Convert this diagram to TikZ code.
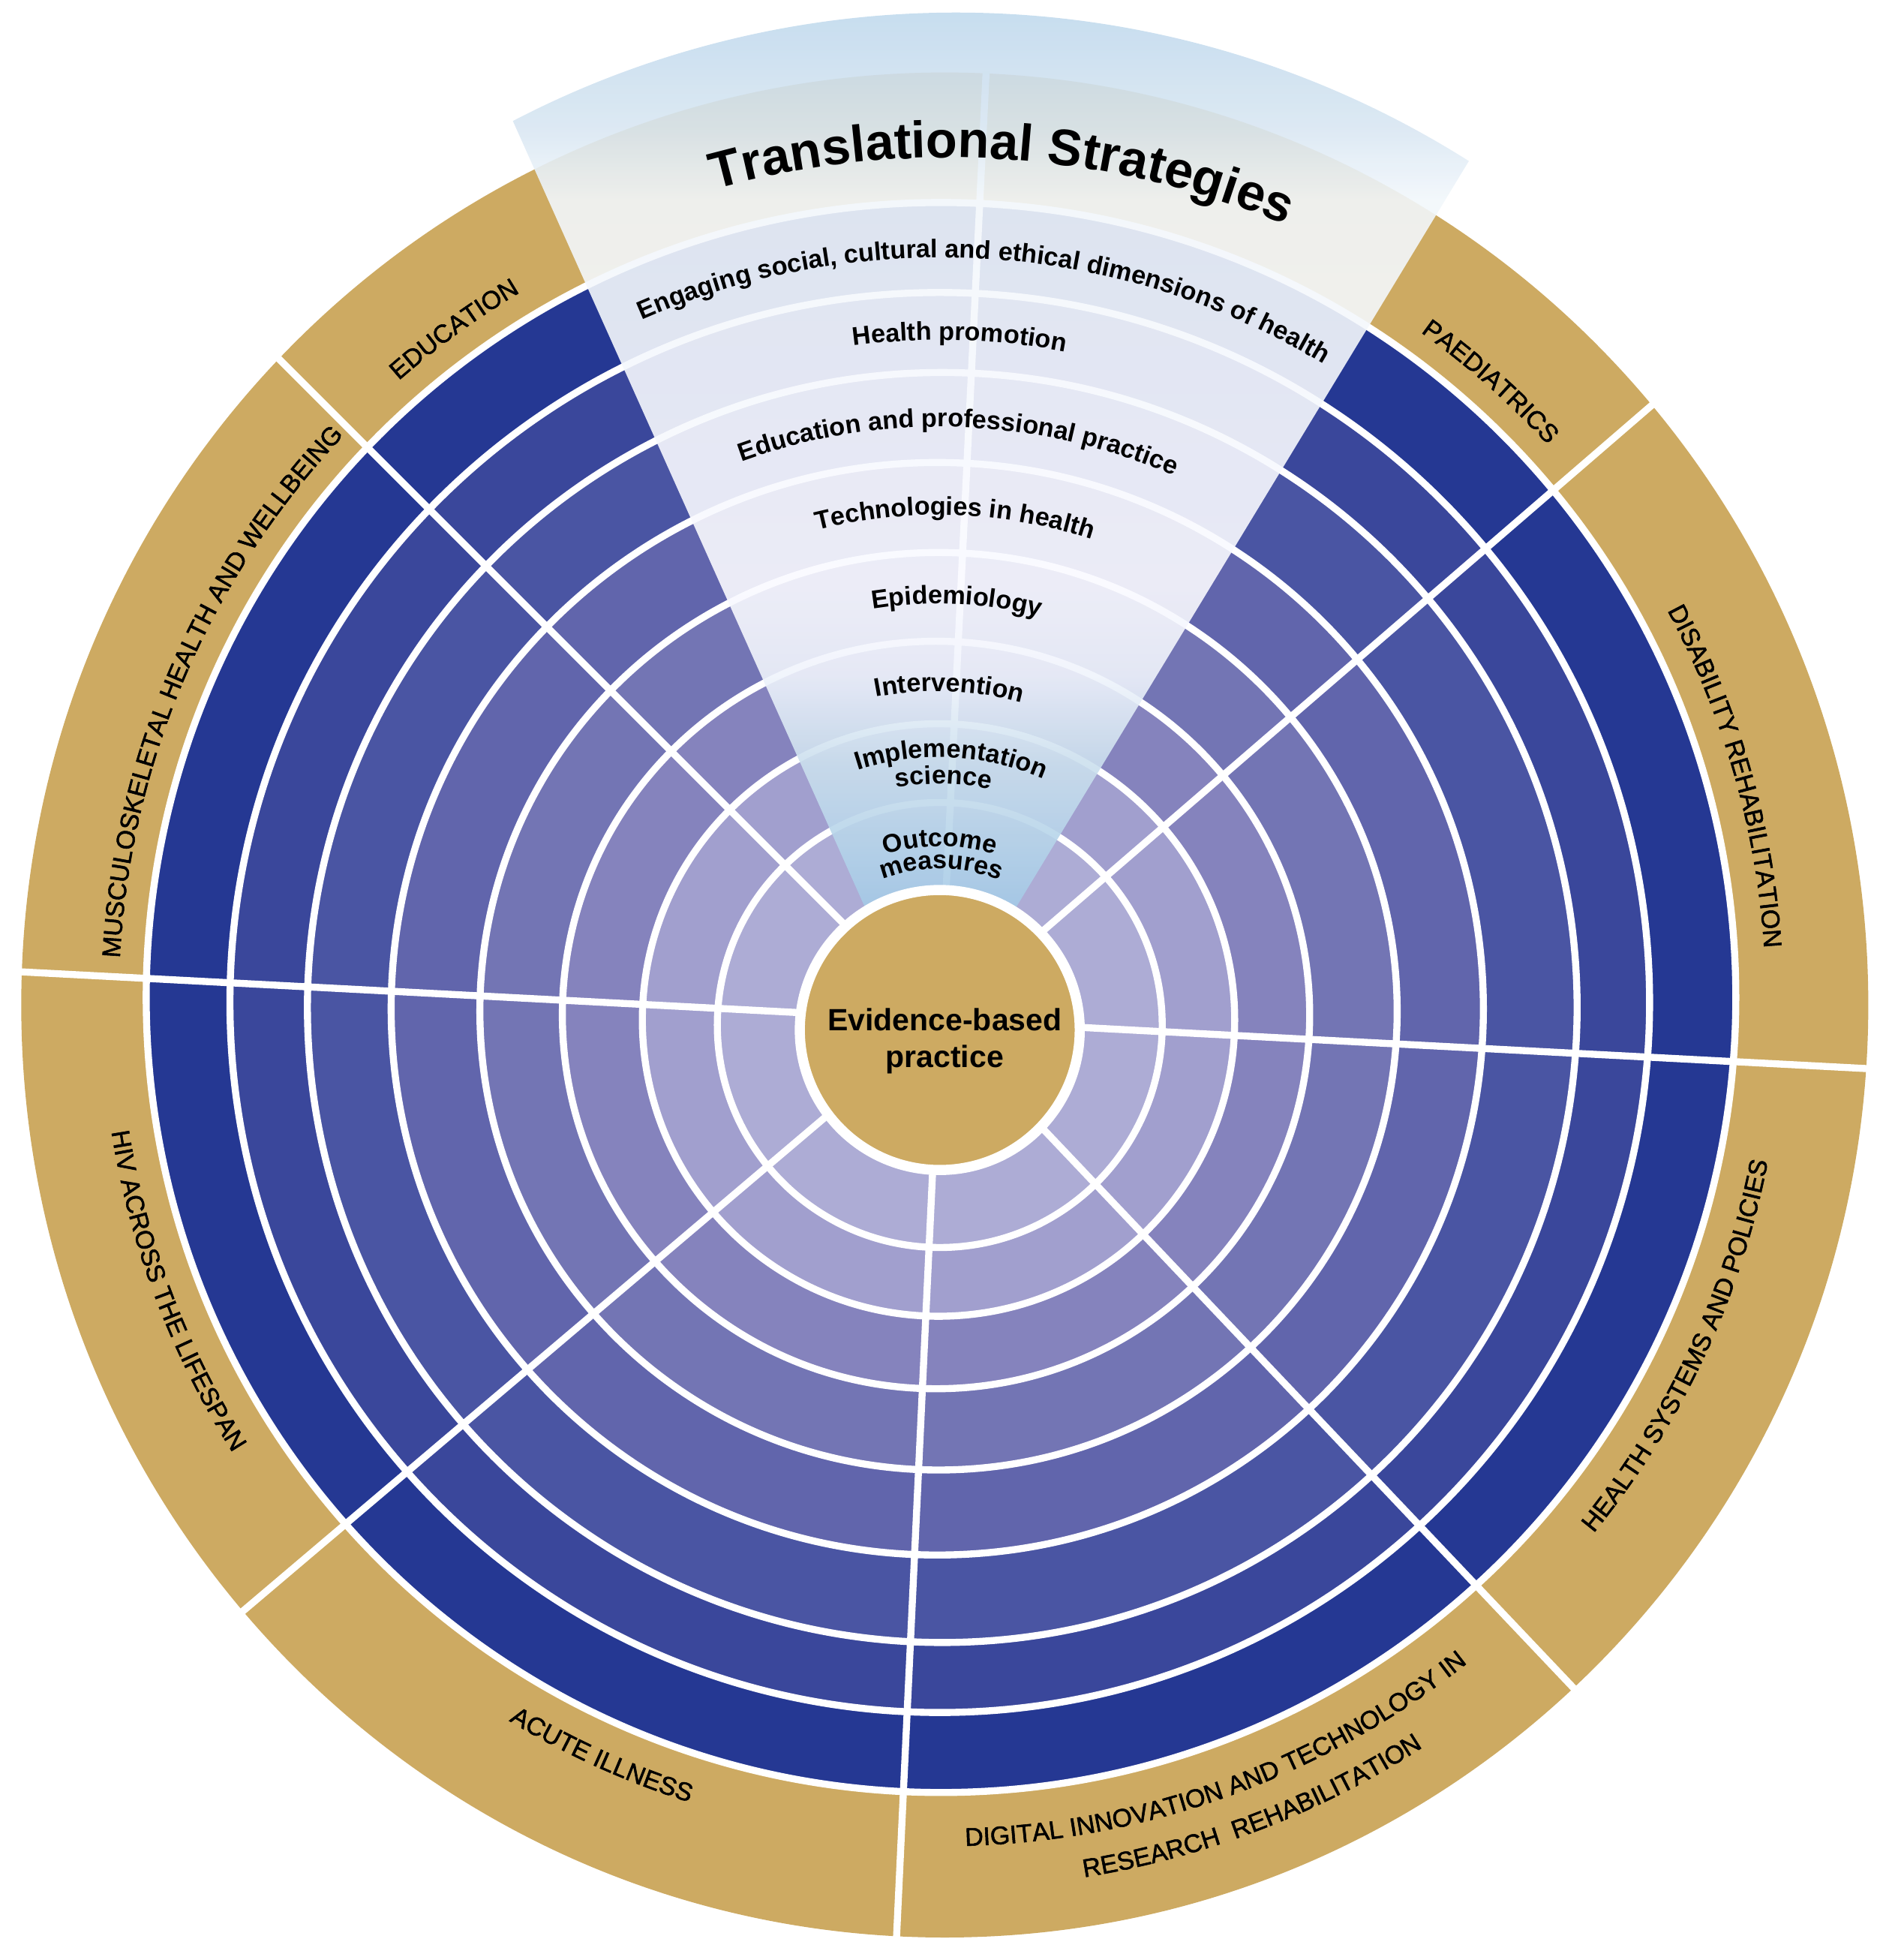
\documentclass[tikz,border=0pt]{standalone}
\usepackage{fontspec}
\setmainfont{Liberation Sans}
\newfontface\goldface{Liberation Sans}[FakeBold=1.6]
\usepackage{tikz}
\usetikzlibrary{decorations.text}
\usepackage{xcolor}
\definecolor{gold}{RGB}{205,170,98}
\definecolor{ringA}{RGB}{173,172,213}
\definecolor{ringB}{RGB}{161,159,206}
\definecolor{ringC}{RGB}{133,131,189}
\definecolor{ringD}{RGB}{115,117,180}
\definecolor{ringE}{RGB}{97,101,172}
\definecolor{ringF}{RGB}{74,85,163}
\definecolor{ringG}{RGB}{58,71,155}
\definecolor{ringH}{RGB}{37,56,147}
\definecolor{fadeT}{RGB}{190,216,236}
\definecolor{fadeA}{RGB}{216,230,242}
\definecolor{fadeB}{RGB}{242,247,251}
\definecolor{fadeC}{RGB}{250,250,255}
\definecolor{fadeD}{RGB}{240,244,252}
\definecolor{fadeE}{RGB}{204,224,238}
\definecolor{fadeF}{RGB}{158,199,229}
\pgfdeclareverticalshading{wedgefade}{100bp}{color(0bp)=(fadeF); color(25bp)=(fadeF); color(34.06bp)=(fadeE); color(38.76bp)=(fadeD); color(43.46bp)=(fadeC); color(64.26bp)=(fadeB); color(68.29bp)=(fadeA); color(75bp)=(fadeT); color(100bp)=(fadeT)}
\newcommand\goldfont{\goldface\fontsize{5.8pt}{7pt}\selectfont}
\newcommand\bandfont{\bfseries\fontsize{5.85pt}{7pt}\selectfont}
\tikzset{
  ringline/.style={draw=white,line width=1.6pt},
  arctext/.style={decorate,decoration={text along path,text={#1},text align=center}}
}

\begin{document}
\begin{tikzpicture}[x=0.01cm,y=0.01cm]
\useasboundingbox (0,0) rectangle (1509,1568);
\fill[gold] (756,764) ellipse[x radius=739,y radius=746];
\foreach \cx/\cy/\r/\col in {753/770/636/ringH,752/766/568/ringG,754/762/508/ringF,750/761/437/ringE,751/759/367/ringD,749/756/299/ringC,751/752/237/ringB,752/748/178/ringA}
  \filldraw[ringline,fill=\col] (\cx,\cy) circle[radius=\r];
\foreach \a in {357,40.8,87.2,135,177,220.3,267.3,313.5}
  \draw[ringline] (752,752) -- ++(\a:760);
\begin{scope}
\clip (743.5,727.5) -- (410.4,1471.2) arc[start angle=117.5,end angle=57.7,radius=768] -- cycle;
\shade[shading=wedgefade,opacity=0.9] (400,823) rectangle (1190,1568);
\end{scope}
\filldraw[draw=white,line width=2.3pt,fill=gold] (752,744) circle[radius=112];
\node[font=\bfseries\fontsize{7pt}{8.3pt}\selectfont,align=center,inner sep=0pt] (ebp) at (756,735) {Evidence-based\\practice};
\path[arctext={|\bfseries\fontsize{11.7pt}{14pt}\selectfont|Translational Strategies}] ([shift={(759,742)}]136.4:700) arc[start angle=136.4,end angle=36.4,radius=700];
\path[arctext={|\bandfont|Engaging social, cultural and ethical dimensions of health}] ([shift={(752.5,768)}]136.3:594) arc[start angle=136.3,end angle=36.3,radius=594];
\path[arctext={|\bandfont|Health promotion}] ([shift={(753,764)}]138.4:532) arc[start angle=138.4,end angle=38.4,radius=532];
\path[arctext={|\bandfont|Education and professional practice}] ([shift={(752,761.5)}]138.1:465) arc[start angle=138.1,end angle=38.1,radius=465];
\path[arctext={|\bandfont|Technologies in health}] ([shift={(750.5,760)}]138:396) arc[start angle=138,end angle=38,radius=396];
\path[arctext={|\bandfont|Epidemiology}] ([shift={(750,757)}]137.3:328) arc[start angle=137.3,end angle=37.3,radius=328];
\path[arctext={|\bandfont|Intervention}] ([shift={(750,754)}]137.9:261) arc[start angle=137.9,end angle=37.9,radius=261];
\path[arctext={|\bandfont|Implementation}] ([shift={(751.5,750)}]137.4:212) arc[start angle=137.4,end angle=37.4,radius=212];
\path[arctext={|\bandfont|science}] ([shift={(751.5,750)}]139:191) arc[start angle=139,end angle=39,radius=191];
\path[arctext={|\bandfont|Outcome}] ([shift={(752,746)}]140:145) arc[start angle=140,end angle=40,radius=145];
\path[arctext={|\bandfont|measures}] ([shift={(752,746)}]139.5:127) arc[start angle=139.5,end angle=39.5,radius=127];
\path[arctext={|\goldfont|EDUCATION}] ([shift={(754,767)}]176:660) arc[start angle=176,end angle=76,radius=660];
\path[arctext={|\goldfont|PAEDIATRICS}] ([shift={(754,767)}]98.5:658) arc[start angle=98.5,end angle=-1.5,radius=658];
\path[arctext={|\goldfont|MUSCULOSKELETAL HEALTH AND WELLBEING}] ([shift={(754,767)}]206.8:659) arc[start angle=206.8,end angle=106.8,radius=659];
\path[arctext={|\goldfont|DISABILITY REHABILITATION}] ([shift={(754,767)}]66:659) arc[start angle=66,end angle=-34,radius=659];
\path[arctext={|\goldfont|HEALTH SYSTEMS AND POLICIES}] ([shift={(754,767)}]-75.1:673) arc[start angle=-75.1,end angle=24.9,radius=673];
\path[arctext={|\goldfont|DIGITAL INNOVATION AND TECHNOLOGY IN}] ([shift={(754,767)}]-120:676) arc[start angle=-120,end angle=-20,radius=676];
\path[arctext={|\goldfont|RESEARCH{\ }{\ }REHABILITATION}] ([shift={(754,767)}]-119:710) arc[start angle=-119,end angle=-19,radius=710];
\path[arctext={|\goldfont|ACUTE ILLNESS}] ([shift={(754,767)}]195.7:672) arc[start angle=195.7,end angle=295.7,radius=672];
\path[arctext={|\goldfont|HIV ACROSS THE LIFESPAN}] ([shift={(754,767)}]150.7:673) arc[start angle=150.7,end angle=250.7,radius=673];
\end{tikzpicture}
\end{document}
